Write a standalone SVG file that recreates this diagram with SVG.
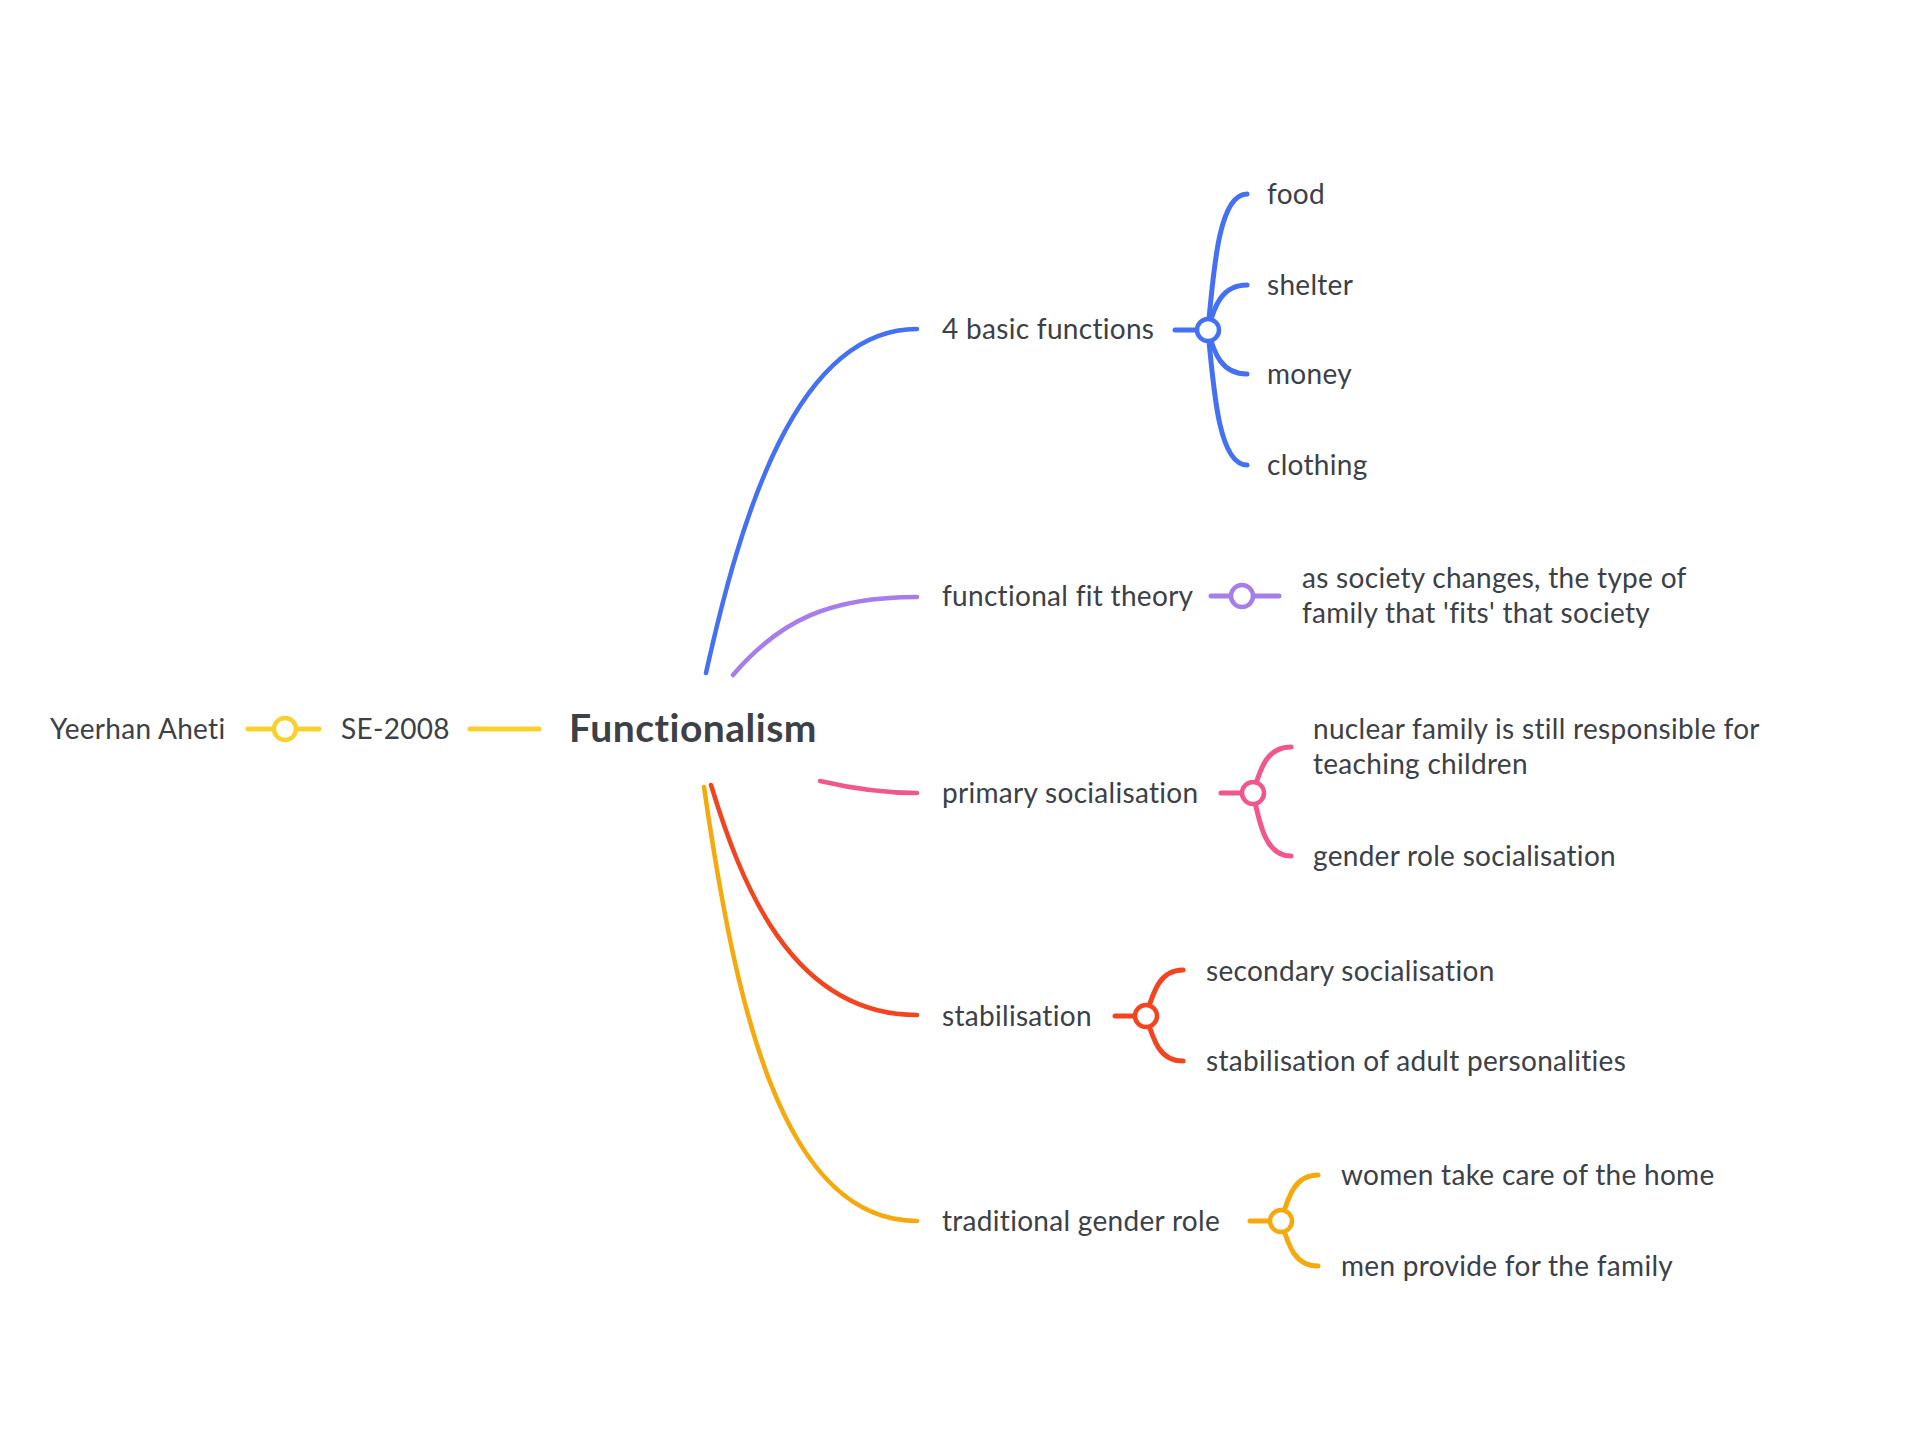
<svg xmlns="http://www.w3.org/2000/svg" width="1918" height="1453" viewBox="0 0 1918 1453">
<style>
  .t { font-family: Lato, "Open Sans", "Liberation Sans", sans-serif; font-size: 28px; letter-spacing: 0.3px; font-variant-ligatures: none; fill: #3c4047; }
  .main { font-family: Lato, "Open Sans", "Liberation Sans", sans-serif; font-size: 39px; letter-spacing: 0.5px; font-weight: bold; fill: #3c4047; }
  .c { fill: none; stroke-linecap: round; stroke-width: 5; }
  .m { fill: none; stroke-linecap: round; stroke-width: 4.5; }
  .dot { fill: #ffffff; stroke-width: 4.5; }
  .yel { stroke: #f9d12f; }
  .blu { stroke: #4471f4; }
  .pur { stroke: #a67deb; }
  .pnk { stroke: #f2578c; }
  .red { stroke: #f4441f; }
  .org { stroke: #f6a90c; }
</style>
<rect width="1918" height="1453" fill="#ffffff"/>
<g id="connectors">
  <!-- left chain -->
  <line class="c yel" x1="248" y1="729" x2="319" y2="729"/>
  <line class="c yel" x1="470" y1="729" x2="539" y2="729"/>
  <!-- main branches -->
  <path class="m blu" d="M 706 673 C 740 520, 795 329, 917 329"/>
  <path class="m pur" d="M 733 675 C 780 620, 830 597, 917 597"/>
  <path class="m pnk" d="M 820 781 C 850 788, 880 793, 917 793"/>
  <path class="m red" d="M 711 785 C 740 880, 790 1015, 917 1015"/>
  <path class="m org" d="M 704 787 C 735 1000, 780 1221, 917 1221"/>
  <!-- blue children -->
  <line class="c blu" x1="1175" y1="330" x2="1200" y2="330"/>
  <path class="c blu" d="M 1208 330 C 1214 262, 1220 194, 1247 194"/>
  <path class="c blu" d="M 1208 330 C 1214 306, 1222 285, 1247 285"/>
  <path class="c blu" d="M 1208 330 C 1214 354, 1222 374, 1247 374"/>
  <path class="c blu" d="M 1208 330 C 1214 398, 1220 465, 1247 465"/>
  <!-- purple -->
  <line class="c pur" x1="1211" y1="596" x2="1279" y2="596"/>
  <!-- pink children -->
  <line class="c pnk" x1="1221" y1="793" x2="1245" y2="793"/>
  <path class="c pnk" d="M 1253 793 C 1260 770, 1266 747, 1291 747"/>
  <path class="c pnk" d="M 1253 793 C 1260 826, 1266 856, 1291 856"/>
  <!-- red children -->
  <line class="c red" x1="1115" y1="1016" x2="1138" y2="1016"/>
  <path class="c red" d="M 1146 1016 C 1153 993, 1159 970, 1183 970"/>
  <path class="c red" d="M 1146 1016 C 1153 1039, 1159 1061, 1183 1061"/>
  <!-- orange children -->
  <line class="c org" x1="1250" y1="1221" x2="1273" y2="1221"/>
  <path class="c org" d="M 1281 1221 C 1288 1198, 1294 1175, 1318 1175"/>
  <path class="c org" d="M 1281 1221 C 1288 1244, 1294 1266, 1318 1266"/>
  <!-- junction dots -->
  <circle class="dot yel" cx="285" cy="729" r="11"/>
  <circle class="dot blu" cx="1208" cy="330" r="11"/>
  <circle class="dot pur" cx="1242" cy="596" r="11"/>
  <circle class="dot pnk" cx="1253" cy="793" r="11"/>
  <circle class="dot red" cx="1146" cy="1016" r="11"/>
  <circle class="dot org" cx="1281" cy="1221" r="11"/>
</g>
<g id="node-yeerhan"><text class="t" x="50" y="739">Yeerhan Aheti</text></g>
<g id="node-se2008"><text class="t" x="341" y="739">SE-2008</text></g>
<g id="node-functionalism"><text class="main" x="569" y="742">Functionalism</text></g>
<g id="node-basic"><text class="t" x="942" y="339">4 basic functions</text></g>
<g id="node-food"><text class="t" x="1267" y="204">food</text></g>
<g id="node-shelter"><text class="t" x="1267" y="295">shelter</text></g>
<g id="node-money"><text class="t" x="1267" y="384">money</text></g>
<g id="node-clothing"><text class="t" x="1267" y="475">clothing</text></g>
<g id="node-fit"><text class="t" x="942" y="606">functional fit theory</text></g>
<g id="node-society"><text class="t"><tspan x="1302" y="588">as society changes, the type of</tspan><tspan x="1302" y="623">family that 'fits' that society</tspan></text></g>
<g id="node-primary"><text class="t" x="942" y="803">primary socialisation</text></g>
<g id="node-nuclear"><text class="t"><tspan x="1313" y="739">nuclear family is still responsible for</tspan><tspan x="1313" y="774">teaching children</tspan></text></g>
<g id="node-gender"><text class="t" x="1313" y="866">gender role socialisation</text></g>
<g id="node-stab"><text class="t" x="942" y="1026">stabilisation</text></g>
<g id="node-secondary"><text class="t" x="1206" y="981">secondary socialisation</text></g>
<g id="node-adult"><text class="t" x="1206" y="1071">stabilisation of adult personalities</text></g>
<g id="node-trad"><text class="t" x="942" y="1231">traditional gender role</text></g>
<g id="node-women"><text class="t" x="1341" y="1185">women take care of the home</text></g>
<g id="node-men"><text class="t" x="1341" y="1276">men provide for the family</text></g>
</svg>
